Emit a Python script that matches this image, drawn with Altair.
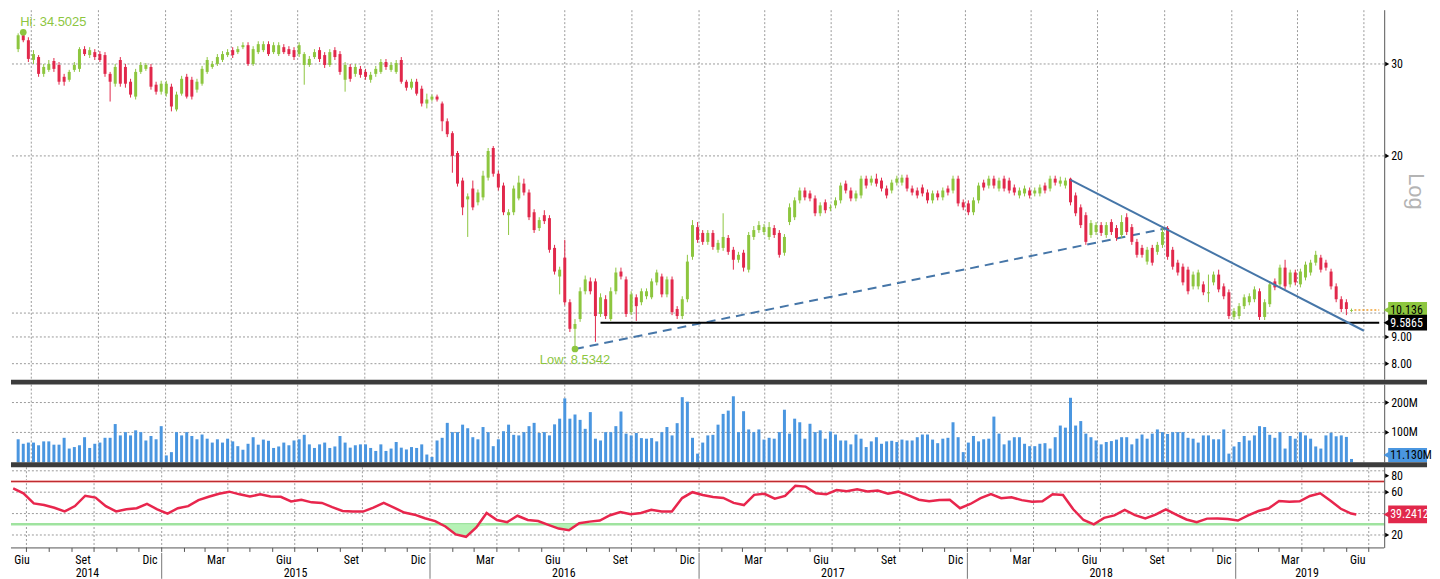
import altair as alt
import pandas as pd
import numpy as np

GREEN = "#8dc63f"
RED = "#e1284b"
BLUE_VOL = "#4a96e0"
GRID = "#9a9a9a"
FONT = "Liberation Sans Narrow, Arial Narrow, Roboto Condensed, DejaVu Sans Condensed, Liberation Sans, sans-serif"

# ---------------- weekly OHLC (from 2014-06-13, weekly) ----------------
open_ = [32.03,34.05,33.31,30.55,30.93,28.72,29.23,30.40,29.87,28.35,
         27.98,29.23,29.36,32.03,31.20,31.61,31.34,31.20,28.72,27.50,
         30.53,29.61,27.74,25.98,28.97,29.36,29.61,27.38,26.55,26.32,
         27.14,24.55,26.32,28.35,27.98,26.79,27.50,28.97,29.61,30.00,
         30.55,31.20,31.89,31.61,32.31,32.59,30.00,31.61,31.89,32.74,
         31.61,31.34,32.31,32.03,31.89,31.34,29.87,29.87,30.93,31.89,
         31.20,29.87,31.89,31.34,27.98,29.61,28.72,29.36,28.97,27.98,
         28.72,28.97,30.26,29.23,28.97,30.53,27.74,27.02,27.74,26.90,
         25.20,25.65,25.98,25.20,23.30,22.11,20.26,17.94,16.51,17.32,
         16.30,16.66,18.17,20.71,18.49,17.55,15.40,15.60,16.58,17.70,
         17.02,15.60,14.55,15.40,15.20,13.33,11.75,12.77,10.49,9.33,
         9.74,11.01,11.50,11.50,9.96,10.63,9.74,11.01,12.01,11.60,
         10.04,10.72,10.49,10.77,10.72,11.45,11.75,10.86,11.60,10.18,
         9.87,10.63,12.82,14.61,14.24,13.69,14.24,13.22,13.33,13.93,
         13.22,12.65,13.05,12.11,13.99,14.42,14.30,13.99,14.55,14.24,
         13.05,14.94,15.26,16.44,17.17,16.95,16.58,15.53,16.30,15.87,
         16.08,16.44,17.70,17.17,16.58,16.80,18.09,17.78,18.09,17.94,
         17.32,17.17,17.78,17.78,18.17,17.32,17.17,17.40,17.02,16.44,
         16.95,16.66,17.32,17.17,18.09,16.30,16.22,15.60,16.44,17.78,
         17.55,18.09,17.32,18.09,17.94,17.40,16.80,16.95,17.17,16.95,
         16.95,17.55,17.32,18.09,17.70,17.55,18.09,16.80,15.94,15.40,
         14.11,14.30,14.74,14.11,14.94,14.55,14.11,15.26,14.61,13.69,
         13.33,12.55,13.33,13.10,13.51,14.55,13.22,12.49,12.27,12.11,
         11.25,11.25,11.35,10.91,11.45,11.85,11.25,10.96,9.83,9.87,
         10.31,10.49,10.63,11.01,9.83,10.40,11.50,11.35,12.22,11.35,
         11.96,11.35,11.70,11.96,12.49,12.77,12.49,12.01,11.25,10.63,
         10.49,10.10]
high = [34.34,34.50,33.75,31.89,31.20,30.00,30.53,30.80,30.26,28.72,
        29.23,30.26,32.31,32.45,32.31,32.03,31.75,31.61,28.97,30.00,
        30.93,30.00,28.10,29.36,30.26,30.13,30.00,27.74,27.86,27.86,
        27.50,26.55,28.47,28.72,28.35,28.10,29.74,30.93,30.40,31.34,
        31.75,32.03,32.31,32.45,33.02,33.02,32.45,33.16,33.16,33.16,
        33.02,33.02,32.74,32.45,32.31,33.02,31.61,31.07,32.03,32.31,
        31.61,32.03,32.31,31.75,30.26,30.00,30.00,29.74,29.36,28.97,
        29.74,30.66,30.66,30.26,30.53,30.93,27.98,28.10,28.10,27.26,
        26.32,26.21,26.21,25.42,23.60,22.30,20.44,18.17,16.95,17.94,
        17.25,18.73,20.71,20.89,18.73,17.78,15.81,17.55,18.33,18.09,
        17.25,15.81,15.26,15.74,15.40,13.51,12.27,13.81,10.63,9.74,
        11.20,11.80,11.70,11.65,10.91,10.82,11.20,12.22,12.22,11.75,
        11.01,10.86,11.15,11.15,11.65,12.11,11.90,11.75,11.75,10.31,
        10.77,12.93,15.07,14.94,14.42,14.42,14.42,13.81,15.53,14.11,
        13.39,13.10,13.22,14.30,14.68,15.00,14.81,14.94,14.74,14.42,
        14.17,16.22,16.66,17.40,17.40,17.17,16.80,16.30,16.51,16.15,
        16.66,17.78,17.94,17.40,17.17,18.33,18.33,18.33,18.49,18.17,
        17.55,18.01,18.33,18.41,18.41,17.55,17.40,17.63,17.25,17.17,
        17.17,17.40,17.55,18.33,18.33,16.51,16.44,16.66,17.78,18.01,
        18.33,18.33,18.17,18.33,18.17,17.63,17.40,17.55,17.40,17.40,
        17.63,17.78,18.33,18.33,18.25,18.17,18.17,17.02,16.15,15.60,
        15.07,14.94,14.94,14.94,15.13,14.74,15.40,15.53,14.81,13.87,
        13.51,13.39,13.51,13.69,14.55,14.68,13.39,12.65,12.44,12.27,
        12.01,12.11,11.50,11.85,12.01,12.11,11.40,11.10,10.22,10.45,
        10.86,10.91,11.25,11.15,10.63,11.50,11.65,12.38,12.65,12.11,
        12.11,12.16,12.55,12.65,13.16,12.93,12.65,12.16,11.40,10.77,
        10.63,10.20]
low = [31.61,33.02,30.26,30.00,28.35,28.35,28.97,28.97,27.38,27.26,
       27.74,28.97,28.97,31.07,30.80,30.53,30.26,28.35,25.42,27.14,
       27.14,27.02,25.87,25.65,28.72,29.10,26.79,26.21,26.21,25.98,
       24.34,24.34,26.09,25.76,25.65,26.44,27.26,28.72,29.36,29.74,
       30.26,30.93,30.80,31.34,32.03,29.74,29.74,31.34,31.61,31.07,
       31.34,31.07,31.34,31.07,30.53,30.93,27.38,29.61,30.66,30.26,
       29.48,29.61,30.53,28.60,26.55,27.74,28.35,28.23,27.98,27.62,
       28.35,28.72,29.23,28.97,28.72,27.50,26.67,26.79,26.09,24.87,
       24.66,25.42,25.42,22.30,21.73,18.57,17.47,15.40,13.99,15.74,
       16.08,16.44,17.94,18.25,17.17,15.40,14.11,15.40,16.44,16.80,
       15.07,14.24,14.36,14.81,13.05,11.85,10.86,10.35,9.20,8.5342,
       9.62,10.86,10.86,8.81,9.83,9.74,9.66,10.86,11.60,9.83,
       9.91,9.66,10.35,10.63,10.63,11.30,10.72,10.72,9.91,9.74,
       9.74,10.49,12.65,13.63,13.51,13.51,13.22,13.05,13.16,12.93,
       12.11,12.49,12.01,11.96,13.81,14.24,14.11,13.81,13.93,12.77,
       12.88,14.74,15.07,16.22,16.44,16.37,15.33,15.33,15.53,15.67,
       15.87,16.22,16.95,16.37,16.37,16.58,17.32,17.55,17.47,17.10,
       16.58,16.95,17.55,17.55,17.10,16.80,16.58,16.73,16.22,16.22,
       16.44,16.44,16.80,16.95,16.01,15.74,15.40,15.40,16.22,17.17,
       17.32,17.32,17.10,17.10,16.95,16.80,16.58,16.73,16.58,16.73,
       16.73,16.95,17.10,17.55,17.47,17.32,16.08,15.33,14.55,13.51,
       13.93,14.11,14.05,13.93,14.11,13.75,13.93,14.11,13.51,12.77,
       12.77,12.38,12.33,12.93,13.33,12.65,12.11,11.80,11.30,10.86,
       11.10,11.10,10.82,10.49,11.30,10.96,10.63,9.74,9.70,9.74,
       10.18,10.35,10.49,9.70,9.70,10.27,11.06,11.20,11.10,11.20,
       11.30,11.20,11.55,11.80,12.33,11.96,12.06,11.10,10.49,10.04,
       9.91,10.05]
close = [34.05,33.31,30.68,31.34,28.72,29.61,30.00,29.36,27.74,27.74,
         28.97,29.87,32.03,31.34,31.89,30.93,30.53,28.72,27.74,29.61,
         27.50,27.50,26.21,28.97,29.87,29.87,27.14,26.55,27.50,27.50,
         24.87,26.21,28.10,25.98,25.98,27.74,29.36,30.53,30.00,30.93,
         31.34,31.61,31.20,32.03,32.59,30.00,32.03,32.74,32.74,31.34,
         32.59,32.59,31.61,31.34,30.93,32.59,31.34,30.68,31.61,30.66,
         29.87,31.61,30.93,28.97,29.87,28.10,29.61,28.60,28.35,28.60,
         29.36,30.26,29.61,29.87,30.13,27.74,27.02,27.74,26.32,25.20,
         25.65,25.98,25.65,23.30,22.01,20.00,17.70,15.94,16.73,15.94,
         17.02,18.33,20.44,18.49,17.40,15.60,15.60,17.32,17.78,17.02,
         15.26,14.42,15.07,15.00,13.22,12.01,12.11,10.49,9.33,9.53,
         11.01,11.60,11.01,9.87,10.72,9.87,11.01,11.96,11.75,9.96,
         10.86,10.31,11.01,11.01,11.50,11.96,10.86,11.60,10.04,9.87,
         10.63,12.55,14.74,13.81,13.69,14.24,13.39,13.63,13.99,13.10,
         12.65,12.93,12.22,14.11,14.42,14.74,14.61,14.61,14.11,12.93,
         13.99,15.94,16.44,17.17,16.66,16.58,15.53,16.08,15.74,15.94,
         16.44,17.55,17.17,16.58,16.95,18.09,17.55,18.09,17.70,17.32,
         16.80,17.78,18.09,18.17,17.32,17.02,16.80,16.95,16.44,16.95,
         16.66,17.17,17.02,18.09,16.22,15.94,15.60,16.44,17.55,17.40,
         18.09,17.55,17.94,17.32,17.17,17.02,17.17,17.32,16.80,17.17,
         17.40,17.17,18.09,17.78,17.94,17.94,16.30,15.53,14.74,13.69,
         14.87,14.74,14.24,14.74,14.30,13.93,14.94,14.30,13.69,12.93,
         12.93,13.22,12.49,13.51,14.30,12.82,12.27,11.96,11.45,11.01,
         11.85,11.96,10.96,10.96,11.85,11.10,10.77,9.87,10.09,10.31,
         10.72,10.77,11.10,9.83,10.49,11.35,11.20,12.22,11.25,11.96,
         11.45,12.01,12.38,12.49,12.93,12.11,12.22,11.25,10.63,10.18,
         10.18,10.136]

# weekly volume, millions
volume_m = [77,62,66,66,57,70,70,59,59,82, 46,51,57,84,48,62,66,82,82,128,
            90,101,90,107,101,73,88,77,121,23, 34,101,90,101,88,77,93,79,66,77,
            66,79,70,54,42,62,84,59,76,72, 48,53,66,57,73,77,92,60,48,60,
            66,48,53,88,66,49,57,60,60,48, 38,60,38,46,68,49,43,51,48,60,
            26,18,73,82,132,101,101,126,114,84, 77,118,101,54,77,104,126,92,90,101,
            121,132,98,101,90,127,146,214,146,160, 142,112,168,79,73,101,101,121,170,96,
            90,98,81,79,81,70,101,118,90,131, 218,203,82,29,
            66,90,92,126,162,173,221,101,171,110, 101,110,76,82,79,101,176,96,146,134,
            79,129,101,107,79,103,93,73,73,60, 93,79,51,70,84,62,70,72,68,76,73,
            73,84,93,93,76,64,79,82,134,84, 34,66,88,70,77,79,153,96,60,73,
            84,84,62,54,54,62,64,46,84,123, 116,216,123,138,96,84,73,60,68,71,
            76,84,84,60,79,93,79,96,110,101,95, 101,101,101,82,79,66,90,90,77,77,
            110,29,53,68,88,73,90,121,118,92, 82,101,46,88,79,101,90,79,53,46,
            90,99,87,90,85,11.13]

# RSI read every second week, plus the last week
rsi_even = [63.5,59,49.5,48,45.5,42,47,56.7,55,47, 42,44,45,49,44,40,45,47,52.6,55.7,
            58.5,60.5,58,56,58,56,55.7,51.3,53,50.5, 50,46,42.5,41.9,41.9,45.5,50,45.5,41,39,
            35.7,33,28,20.5,18.3,27,40.5,34,32,38, 34,33,29.5,26,24.5,31,32.5,33.5,38.5,41.5,
            39.5,40.5,43.5,41.9,42,54.5,60,57.4,55.5,54.6, 50,48,57.5,58.5,54,56.5,66,65.2,59,58,
            62,61,62.7,60.6,61.5,58.5,60.5,57,53,51.5, 52.8,53,45,49,54.4,58.3,54.4,55.2,52.6,51,
            51.5,58,57.4,44,34,30,36,38.3,43.5,38.5, 35.5,39,44,39,34.5,32,35.3,35.5,35,33.5,
            38.3,42.4,45,51.7,51,51.5,56.5,59,52,44.5, 40]
rsi_last = 39.2412

price_ticks = [8, 9, 20, 30]
price_tick_text = ["8.00", "9.00", "20", "30"]
price_grid = [8, 9, 10, 20, 30]
vol_ticks = [100e6, 200e6]
vol_tick_text = ["100M", "200M"]
rsi_ticks = [20, 60]
rsi_tick_text = ["20", "60"]
rsi_grid = [20, 40, 60, 80]

quarter_lines = ["2014-07-01","2014-10-01","2015-01-01","2015-04-01","2015-07-01","2015-10-01",
                 "2016-01-01","2016-04-01","2016-07-01","2016-10-01","2017-01-01","2017-04-01",
                 "2017-07-01","2017-10-01","2018-01-01","2018-04-01","2018-07-01","2018-10-01",
                 "2019-01-01","2019-04-01","2019-07-01"]
month_label_dates = ["2014-06-25","2014-09-16","2014-12-16","2015-03-16","2015-06-16","2015-09-16",
                     "2015-12-16","2016-03-16","2016-06-16","2016-09-16","2016-12-16","2017-03-16",
                     "2017-06-16","2017-09-16","2017-12-16","2018-03-16","2018-06-16","2018-09-16",
                     "2018-12-16","2019-03-16","2019-06-16"]
month_label_text = ["Giu", "Set", "Dic", "Mar"] * 5 + ["Giu"]
year_label_dates = ["2014-09-22","2015-07-02","2016-07-01","2017-07-02","2018-07-02","2019-04-08"]
year_label_text = ["2014","2015","2016","2017","2018","2019"]
year_sep_dates = ["2015-01-01","2016-01-01","2017-01-01","2018-01-01","2019-01-01"]

# ---------------- frames ----------------
dates = pd.date_range("2014-06-13", periods=len(close), freq="7D").strftime("%Y-%m-%d").tolist()
cdf = pd.DataFrame({"date": dates, "open": open_, "high": high, "low": low, "close": close})
cdf["dir"] = np.where(cdf["close"] >= cdf["open"], "up", "down")
vdf = pd.DataFrame({"date": dates, "vol": [v * 1e6 for v in volume_m]})
rdf = pd.DataFrame({"date": dates[0::2] + [dates[-1]], "rsi": rsi_even + [rsi_last]})

W = 1379
H1, H2, H3 = 371, 78, 81

xs = alt.Scale(type="utc", domain=[alt.DateTime(year=2014, month=6, date=10, utc=True),
                                   alt.DateTime(year=2019, month=7, date=22, utc=True)])
ys = alt.Scale(type="log", domain=[7.456, 38.03])
vs = alt.Scale(domain=[0, 260e6])
rs = alt.Scale(domain=[7.9, 83.3])


def X(f="date"):
    return alt.X(f"{f}:T", scale=xs, axis=None)


def vgrid():
    return alt.Chart(pd.DataFrame({"d": quarter_lines})).mark_rule(
        color=GRID, strokeDash=[2, 2], strokeWidth=1).encode(x=X("d"))


def hgrid(vals, scale):
    return alt.Chart(pd.DataFrame({"v": vals})).mark_rule(
        color=GRID, strokeDash=[2, 2], strokeWidth=1).encode(y=alt.Y("v:Q", scale=scale, axis=None))


def right_axis(vals, texts, scale, height, y_off=0):
    d = pd.DataFrame({"v": vals, "t": texts})
    y = alt.Y("v:Q", scale=scale, axis=None)
    dom = alt.Chart(pd.DataFrame({"a": [0]})).mark_rule(color="#555", strokeWidth=1).encode(
        x=alt.value(W + 0.5), y=alt.value(0), y2=alt.value(height))
    tri = alt.Chart(d).mark_point(shape="triangle-right", filled=True, size=22, color="#000",
                                  opacity=1, yOffset=y_off).encode(x=alt.value(W + 3), y=y)
    lab = alt.Chart(d).mark_text(align="left", baseline="middle", fontSize=12, font=FONT,
                                 color="#000", dy=y_off).encode(x=alt.value(W + 7), y=y, text="t:N")
    return [dom, tri, lab]


def tag(value, text, bg, fg, scale, up=8, down=8, dy=0):
    d = pd.DataFrame({"v": [value], "t": [text]})
    base = alt.Chart(d)
    y = alt.Y("v:Q", scale=scale, axis=None)
    rect = base.mark_rect(color=bg, yOffset=-up, y2Offset=down).encode(
        x=alt.value(W + 4), x2=alt.value(W + 43), y=y, y2="v:Q")
    tri = base.mark_point(shape="triangle-left", filled=True, size=70, color=bg, opacity=1,
                          yOffset=(down - up) / 2).encode(x=alt.value(W + 3), y=y)
    txt = base.mark_text(align="left", baseline="middle", fontSize=12, font=FONT, color=fg, dy=dy).encode(
        x=alt.value(W + 6), y=y, text="t:N")
    return [rect, tri, txt]


def separator():
    return alt.Chart(pd.DataFrame({"a": [0]})).mark_rule(color="#3c3c3c", strokeWidth=5).encode(
        x=alt.value(0), x2=alt.value(W + 43), y=alt.value(-2.5))


# ---------------- price panel ----------------
color = alt.Color("dir:N", scale=alt.Scale(domain=["up", "down"], range=[GREEN, RED]), legend=None)
wicks = alt.Chart(cdf).mark_rule(strokeWidth=1).encode(
    x=X(), y=alt.Y("low:Q", scale=ys, axis=None), y2="high:Q", color=color)
bodies = alt.Chart(cdf).mark_bar(size=3).encode(
    x=X(), y=alt.Y("open:Q", scale=ys, axis=None), y2="close:Q", color=color)


def pline(d, v, **kw):
    return alt.Chart(pd.DataFrame({"d": d, "v": v})).mark_line(**kw).encode(
        x=X("d"), y=alt.Y("v:Q", scale=ys, axis=None))


down_trend = pline(["2018-05-25", "2019-07-01"], [18.0, 9.25], color="#4676a8", strokeWidth=2)
up_trend = pline(["2016-07-15", "2018-10-05"], [8.5342, 14.55], color="#4676a8", strokeWidth=2,
                 strokeDash=[9, 6])
support = pline(["2016-08-19", "2019-07-22"], [9.5865, 9.5865], color="#000", strokeWidth=2)
last_px = pline(["2019-06-18", "2019-07-22"], [10.136, 10.136], color="#f0a030", strokeWidth=1.5,
                strokeDash=[2, 2])

hi_df = pd.DataFrame({"d": ["2014-06-20"], "v": [34.5025], "t": ["Hi: 34.5025"]})
lo_df = pd.DataFrame({"d": ["2016-07-15"], "v": [8.5342], "t": ["Low: 8.5342"]})
hi_dot = alt.Chart(hi_df).mark_circle(size=45, color=GREEN, opacity=1).encode(
    x=X("d"), y=alt.Y("v:Q", scale=ys, axis=None))
hi_txt = alt.Chart(hi_df).mark_text(align="left", dx=-3, dy=-10, fontSize=13, color=GREEN,
                                    font="Liberation Sans, sans-serif").encode(
    x=X("d"), y=alt.Y("v:Q", scale=ys, axis=None), text="t:N")
lo_dot = alt.Chart(lo_df).mark_circle(size=45, color=GREEN, opacity=1).encode(
    x=X("d"), y=alt.Y("v:Q", scale=ys, axis=None))
lo_txt = alt.Chart(lo_df).mark_text(align="center", dy=11, fontSize=13, color=GREEN,
                                    font="Liberation Sans, sans-serif").encode(
    x=X("d"), y=alt.Y("v:Q", scale=ys, axis=None), text="t:N")
log_txt = alt.Chart(pd.DataFrame({"t": ["Log"]})).mark_text(
    angle=90, fontSize=22, color="#b4b4b4", font="Liberation Sans, sans-serif",
    align="center", baseline="middle").encode(x=alt.value(W + 32), y=alt.value(182), text="t:N")

price = alt.layer(
    vgrid(), hgrid(price_grid, ys),
    *right_axis(price_ticks, price_tick_text, ys, H1),
    up_trend, support, wicks, bodies, down_trend, last_px,
    hi_dot, hi_txt, lo_dot, lo_txt, log_txt,
    *tag(10.136, "10.136", GREEN, "#000", ys),
    *tag(9.5865, "9.5865", "#000", "#fff", ys),
).properties(width=W, height=H1)

# ---------------- volume panel ----------------
vbars = alt.Chart(vdf).mark_bar(size=3, color=BLUE_VOL).encode(
    x=X(), y=alt.Y("vol:Q", scale=vs, axis=None))
volume = alt.layer(
    vgrid(), hgrid(vol_ticks, vs),
    *right_axis(vol_ticks, vol_tick_text, vs, H2),
    vbars,
    *tag(11.13e6, "11.130M", BLUE_VOL, "#000", vs, up=11, down=3, dy=-4),
    separator(),
).properties(width=W, height=H2)

# ---------------- RSI panel ----------------
ry = alt.Y("rsi:Q", scale=rs, axis=None)
band70 = alt.Chart(pd.DataFrame({"v": [70]})).mark_rule(color="#f2b8b8", strokeWidth=3).encode(
    y=alt.Y("v:Q", scale=rs, axis=None))
line70 = alt.Chart(pd.DataFrame({"v": [70]})).mark_rule(color="#c0282d", strokeWidth=1).encode(
    y=alt.Y("v:Q", scale=rs, axis=None))
line30 = alt.Chart(pd.DataFrame({"v": [30]})).mark_rule(color="#9fe39f", strokeWidth=2.5).encode(
    y=alt.Y("v:Q", scale=rs, axis=None))
oversold = alt.Chart(rdf).transform_calculate(lo="min(datum.rsi, 30)", top="30").mark_area(
    color="#b6f2b6", opacity=1).encode(x=X(), y=alt.Y("lo:Q", scale=rs, axis=None), y2="top:Q")
rsi_line = alt.Chart(rdf).mark_line(color="#e8264d", strokeWidth=2.5).encode(x=X(), y=ry)
lbl80 = alt.Chart(pd.DataFrame({"v": [80], "t": ["80"]})).mark_text(
    align="left", baseline="middle", dy=5, fontSize=12, font=FONT, color="#000").encode(
    x=alt.value(W + 7), y=alt.Y("v:Q", scale=rs, axis=None), text="t:N")
tri80 = alt.Chart(pd.DataFrame({"v": [80]})).mark_point(
    shape="triangle-right", filled=True, size=22, color="#000", opacity=1, yOffset=5).encode(
    x=alt.value(W + 3), y=alt.Y("v:Q", scale=rs, axis=None))

axis_line = alt.Chart(pd.DataFrame({"a": [0]})).mark_rule(color="#555").encode(
    x=alt.value(0), x2=alt.value(W), y=alt.value(H3))
mticks = alt.Chart(pd.DataFrame({"d": pd.date_range("2014-07-01", "2019-07-01", freq="MS")
                                 .strftime("%Y-%m-%d").tolist()})).mark_rule(color="#555").encode(
    x=X("d"), y=alt.value(H3), y2=alt.value(H3 + 4))
mlabels = alt.Chart(pd.DataFrame({"d": month_label_dates, "t": month_label_text})).mark_text(
    align="center", baseline="middle", fontSize=12, font=FONT, color="#000").encode(
    x=X("d"), y=alt.value(H3 + 12), text="t:N")
ylabels = alt.Chart(pd.DataFrame({"d": year_label_dates, "t": year_label_text})).mark_text(
    align="center", baseline="middle", fontSize=12, font=FONT, color="#000").encode(
    x=X("d"), y=alt.value(H3 + 25), text="t:N")
ysep = alt.Chart(pd.DataFrame({"d": year_sep_dates})).mark_rule(color="#777").encode(
    x=X("d"), y=alt.value(H3 + 5), y2=alt.value(H3 + 31))

rsi = alt.layer(
    vgrid(), hgrid(rsi_grid, rs), band70, line70, line30, oversold,
    *right_axis(rsi_ticks, rsi_tick_text, rs, H3),
    rsi_line, lbl80, tri80,
    *tag(rsi_last, "39.2412", RED, "#fff", rs, up=9, down=9),
    separator(), axis_line, mticks, mlabels, ylabels, ysep,
).properties(width=W, height=H3)

chart = alt.vconcat(price, volume, rsi, spacing=5, bounds="flush", padding=0).configure_view(
    strokeWidth=0)

chart.save("out.html", embed_options={"renderer": "svg", "actions": False})
